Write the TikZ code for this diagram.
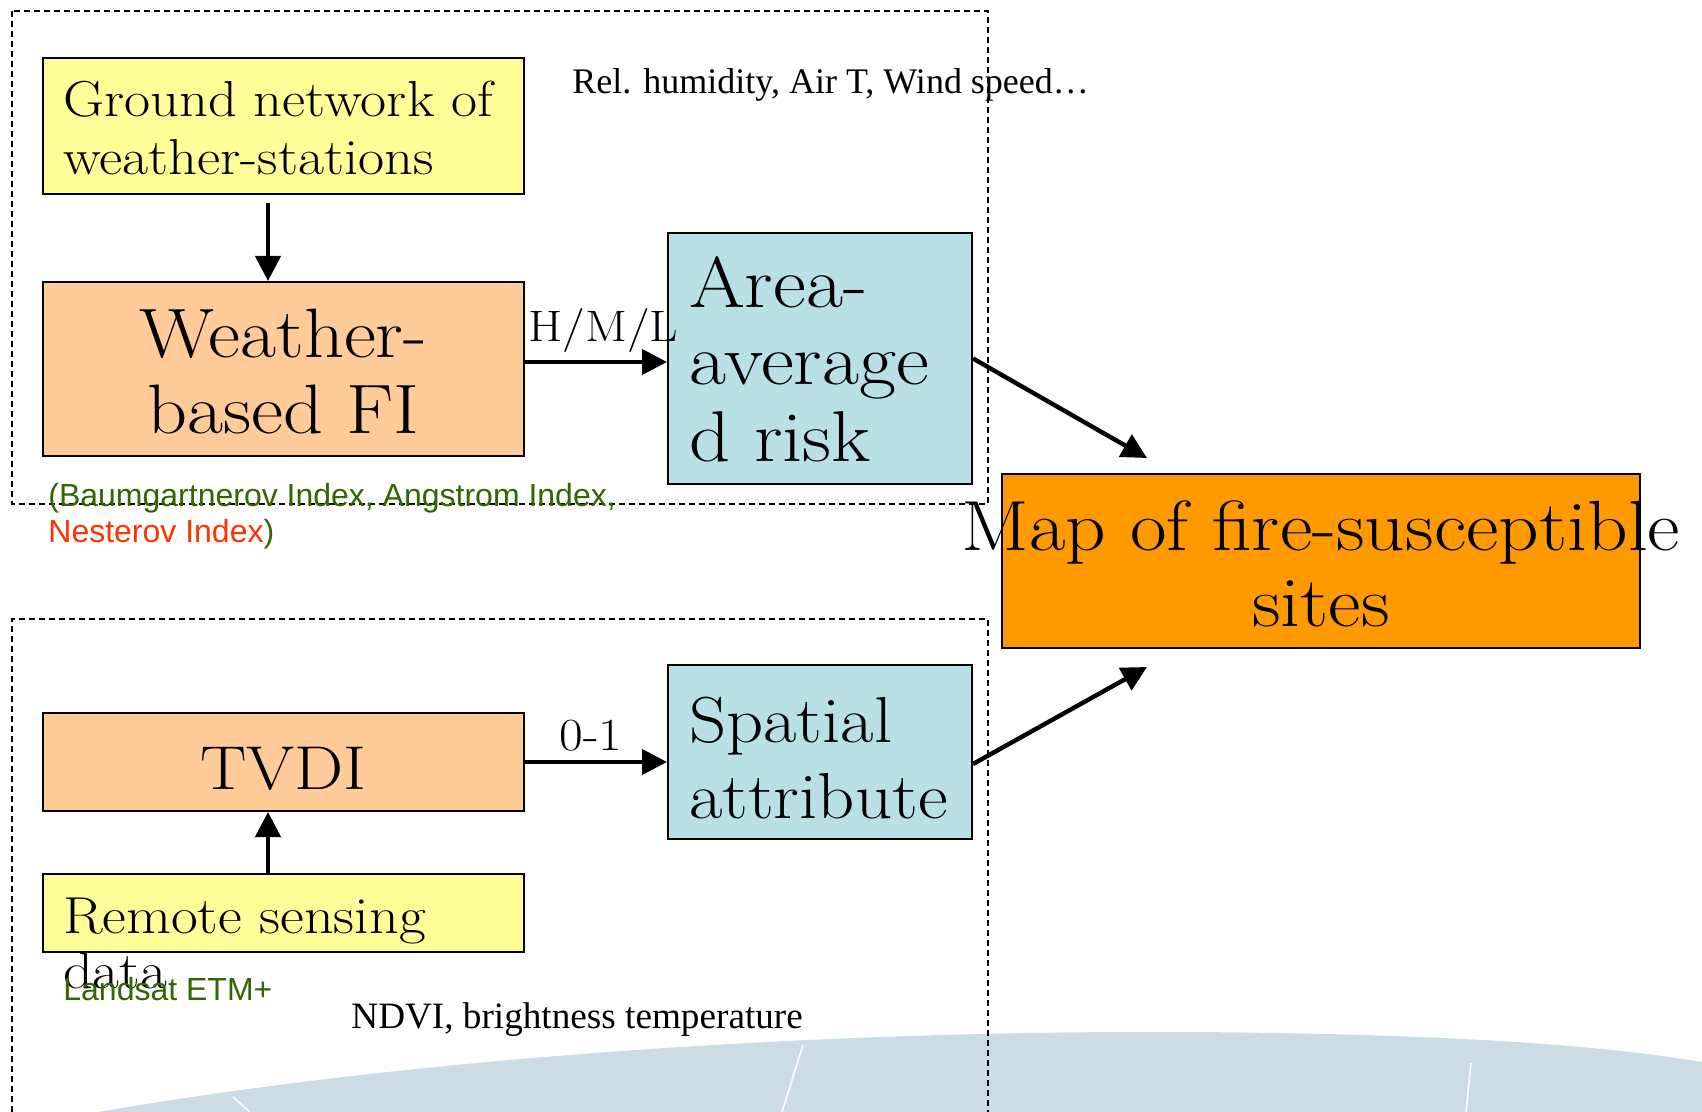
\documentclass[tikz,border=0pt]{standalone}
\usepackage{fontspec}
\usepackage{tikz}
\usetikzlibrary{shapes,arrows.meta}
\setmainfont{lmroman17-regular.otf}[FakeStretch=1.12]
\newfontfamily\timesfont{Liberation Serif}
\newfontfamily\arialfont{Liberation Sans}
\definecolor{srcyellow}{RGB}{255,255,153}
\definecolor{idxpeach}{RGB}{255,204,153}
\definecolor{riskblue}{RGB}{185,224,228}
\definecolor{maporange}{RGB}{255,153,0}
\definecolor{notegreen}{RGB}{51,102,0}
\definecolor{notered}{RGB}{255,51,0}
\definecolor{swooshblue}{RGB}{204,220,228}

\begin{document}
\begin{tikzpicture}[x=0.5pt, y=-0.5pt,
      block_src/.style ={rectangle, draw=black, line width=1pt, fill=srcyellow,
        minimum width=240.5pt, inner xsep=10pt, inner ysep=0pt,
        text width=220.5pt, align=left, font=\fontsize{25.3}{29}\selectfont},
      block_index/.style ={rectangle, draw=black, line width=1pt, fill=idxpeach,
        minimum width=240.5pt, inner xsep=10pt, inner ysep=0pt,
        text width=220.5pt, align=center, font=\fontsize{35}{37.5}\selectfont},
      block_risk/.style ={rectangle, draw=black, line width=1pt, fill=riskblue,
        minimum width=152pt, inner xsep=10.5pt, inner ysep=0pt,
        text width=131pt, align=left, font=\fontsize{36}{38.5}\selectfont},
      block_map/.style ={rectangle, draw=black, line width=1pt, fill=maporange,
        minimum width=319pt, minimum height=87pt, inner sep=0pt,
        text width=319pt, align=center, font=\fontsize{35.5}{38}\selectfont},
      block_noborder/.style ={inner sep=0pt, anchor=base west},
      group/.style ={draw=black, line width=0.8pt, dash pattern=on 3pt off 2pt},
      line/.style ={draw, line width=2.2pt, -{Triangle[length=12.5pt,width=12.5pt]}}]
    \useasboundingbox (0,0) rectangle (1702,1112);
    %
    % 0. slide background and the two dashed groups
    \fill[swooshblue] (98,1112) .. controls (400,1060) and (800,1030) .. (1194,1032)
      .. controls (1450,1034) and (1600,1045) .. (1702,1062) -- (1702,1112) -- cycle;
    \draw[white, line width=0.8pt] (803,1045) -- (782,1112);
    \draw[white, line width=0.8pt] (1471,1063) -- (1466,1112);
    \draw[white, line width=0.8pt] (233,1097) -- (250,1112);
    \draw[group] (12,11) rectangle (988,504);
    \draw[group] (12,1112) |- (988,619) -- (988,1112);
    %
    % 1. boxes
    % meteorological branch
    \node [block_src, minimum height=68pt, text height=20pt, text depth=29pt]
      (stations) at (283.5,126) {Ground network of\\weather-stations};
    \node [block_index, minimum height=87pt, text height=25pt, text depth=36pt]
      (weather_fi) at (283.5,369) {Weather-\\based FI};
    \node [block_risk, minimum height=125.5pt, text height=25pt, text depth=75.5pt]
      (area_risk) at (820,358.5) {Area-\\average\\d risk};
    % remote sensing branch
    \node [block_index, minimum height=49pt, text height=27pt, text depth=0pt,
      font=\fontsize{31}{36}\selectfont] (tvdi) at (283.5,762) {TVDI};
    \node [block_src, minimum height=39pt, text height=22pt, text depth=2pt,
      font=\fontsize{26}{27.5}\selectfont] (remote) at (283.5,913) {Remote sensing\\data};
    \node [block_risk, minimum height=87pt, text height=25pt, text depth=35pt,
      font=\fontsize{32.5}{38}\selectfont] (spatial) at (820,752) {Spatial\\attribute};
    % result
    \node [block_map, text height=25pt, text depth=36pt]
      (fire_map) at (1321,561) {\makebox[0pt]{Map of fire-susceptible}\\sites};
    %
    % 2. free texts
    \node [block_noborder, font=\timesfont\fontsize{18}{20}\selectfont]
      (met_vars) at (572,94) {Rel. humidity, Air T, Wind speed…};
    \node [block_noborder, font=\timesfont\fontsize{18.6}{20}\selectfont]
      (rs_vars) at (351,1028) {NDVI, brightness temperature};
    \node [block_noborder, font=\fontsize{22}{24}\selectfont] (hml) at (528,342) {H/M/L};
    \node [block_noborder, font=\fontsize{23}{25}\selectfont] (zero_one) at (559,750) {0-1};
    \node [block_noborder, font=\arialfont\fontsize{16}{18}\selectfont, text=notegreen]
      (fi_names1) at (48,506) {(Baumgartnerov Index, Angstrom Index,};
    \node [block_noborder, font=\arialfont\fontsize{16}{18}\selectfont]
      (fi_names2) at (48,542) {\textcolor{notered}{Nesterov Index}\textcolor{notegreen}{)}};
    \node [block_noborder, font=\arialfont\fontsize{16}{18}\selectfont, text=notegreen]
      (landsat) at (63,1000) {Landsat ETM+};
    %
    \coordinate (map_in_top) at (1147,458);
    \coordinate (map_in_bot) at (1147,667);
    %
    % 3. connecting nodes with paths
    \begin{scope}[every path/.style=line]
      \path ([xshift=-7.75pt,yshift=-4pt]stations.south) -- ([xshift=-7.75pt]weather_fi.north);
      \path ([yshift=-1.75pt]area_risk.west -| weather_fi.east) -- ([yshift=-1.75pt]area_risk.west);
      \path (area_risk.east) -- (map_in_top);
      %
      \path ([xshift=-7.75pt]remote.north) -- ([xshift=-7.75pt]tvdi.south);
      \path (tvdi.east) -- (tvdi.east -| spatial.west);
      \path ([yshift=-6pt]spatial.east) -- (map_in_bot);
    \end{scope}
\end{tikzpicture}
\end{document}
